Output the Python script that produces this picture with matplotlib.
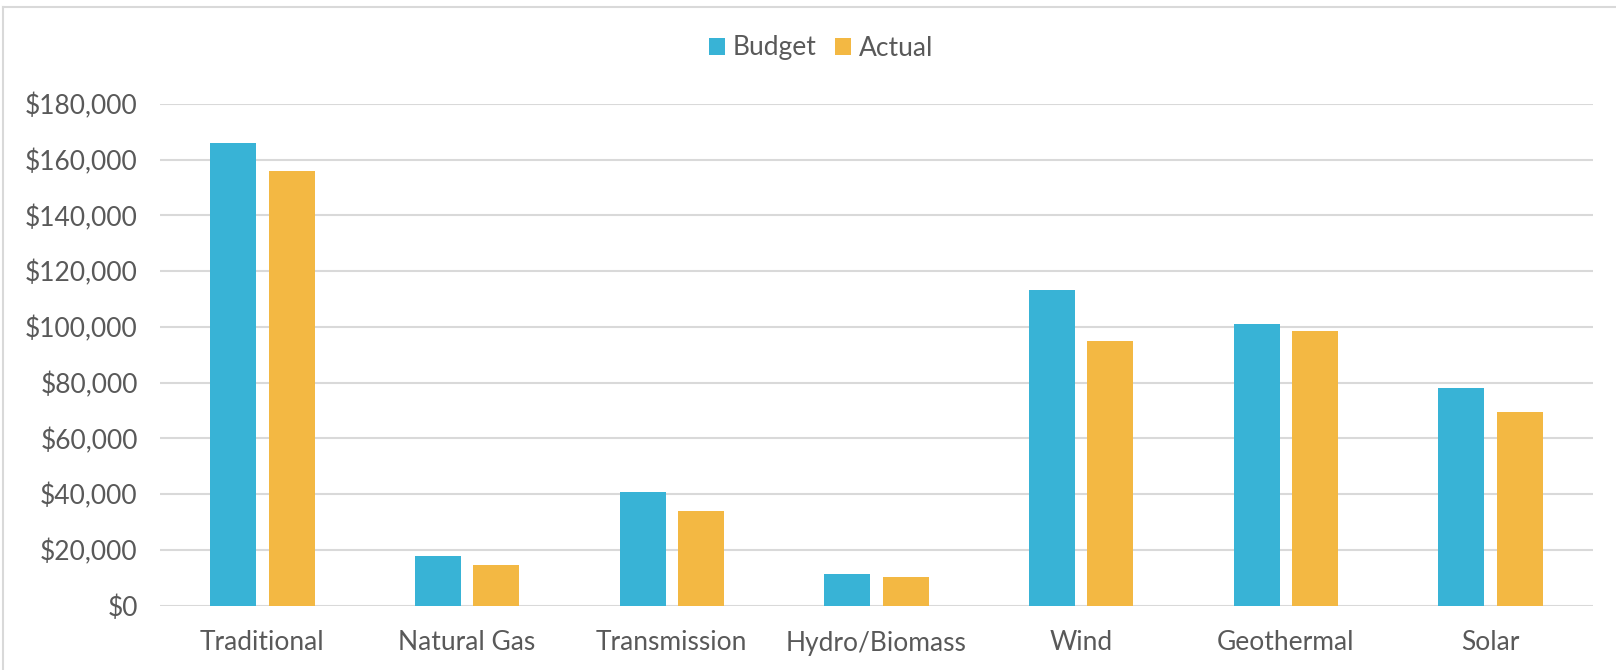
import matplotlib
matplotlib.use("Agg")
import matplotlib.pyplot as plt
from matplotlib.patches import Patch
from matplotlib.lines import Line2D
from matplotlib.ticker import FuncFormatter, MultipleLocator
import numpy as np

categories = ["Traditional", "Natural Gas", "Transmission", "Hydro/Biomass",
              "Wind", "Geothermal", "Solar"]
budget = [166100, 17850, 40800, 11350, 113400, 101100, 78200]
actual = [156050, 14450, 33800, 10050, 94800, 98450, 69350]
series_names = ["Budget", "Actual"]

BLUE = "#38B3D6"
ORANGE = "#F3B843"
GRID = "#D9D9D9"
TEXT = "#595959"

plt.rcParams['font.family'] = ['Lato', 'DejaVu Sans']

W, H = 1616, 670
fig = plt.figure(figsize=(W / 100, H / 100), dpi=100)
ax = fig.add_axes([160 / W, 1 - 605.5 / H, (1593 - 160) / W, (605.5 - 104) / H])

x = np.arange(len(categories))
bw = 0.2247
off = 0.1426
ax.bar(x - off, budget, width=bw, color=BLUE, zorder=3)
ax.bar(x + off, actual, width=bw, color=ORANGE, zorder=3)

ax.set_xlim(-0.5, len(categories) - 0.5)
ax.set_ylim(0, 180000)
ax.yaxis.set_major_locator(MultipleLocator(20000))
ax.yaxis.set_major_formatter(FuncFormatter(lambda v, p: f"${v:,.0f}"))
ax.grid(axis='y', color=GRID, linewidth=1.5, zorder=0)
ax.set_axisbelow(True)
for s in ax.spines.values():
    s.set_visible(False)
ax.set_xticks(x)
ax.set_xticklabels(categories)
ax.tick_params(axis='both', length=0, labelsize=19, labelcolor=TEXT)
ax.tick_params(axis='y', pad=16)
ax.tick_params(axis='x', pad=18)

handles = [Patch(facecolor=BLUE, edgecolor='none'), Patch(facecolor=ORANGE, edgecolor='none')]
fig.legend(handles, series_names, loc='center', bbox_to_anchor=(821 / W, 1 - 48 / H),
           ncol=2, frameon=False, fontsize=19, labelcolor=TEXT,
           handlelength=0.6, handleheight=0.6, handletextpad=0.3, columnspacing=0.7)

# chart area border (top and left visible)
fig.add_artist(Line2D([3 / W, 1.0], [1 - 7 / H, 1 - 7 / H], color=GRID, linewidth=1.5,
                      transform=fig.transFigure))
fig.add_artist(Line2D([3 / W, 3 / W], [0.0, 1 - 7 / H], color=GRID, linewidth=1.5,
                      transform=fig.transFigure))

fig.savefig("out.png", dpi=100, facecolor="white")
